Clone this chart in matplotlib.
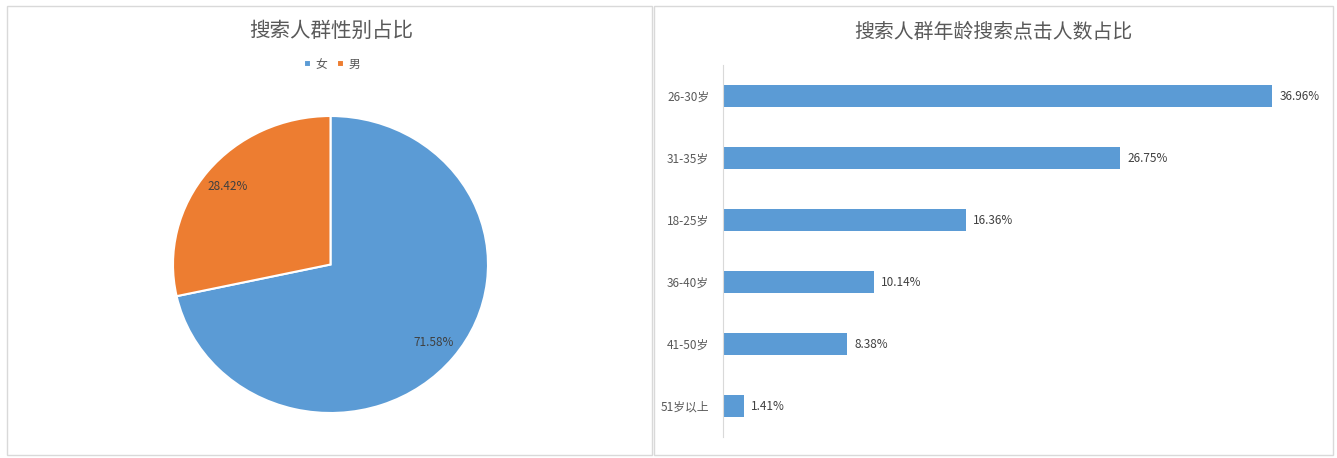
import matplotlib
matplotlib.use('Agg')
import matplotlib.pyplot as plt
from matplotlib.patches import Rectangle

plt.rcParams['font.family'] = ['Noto Sans CJK SC', 'DejaVu Sans']

# 数据
gender_labels = ['女', '男']
gender_share = [71.58, 28.42]
age_labels = ['26-30岁', '31-35岁', '18-25岁', '36-40岁', '41-50岁', '51岁以上']
age_share = [36.96, 26.75, 16.36, 10.14, 8.38, 1.41]

BLUE = '#5B9BD5'
ORANGE = '#ED7D31'
TXT = '#595959'

W, H = 1337, 458
fig = plt.figure(figsize=(W / 100, H / 100), dpi=100)
fig.patch.set_facecolor('white')


def px_box(x0, y0, x1, y1):
    # pixel box (top-left origin) -> figure fraction [l, b, w, h]
    return [x0 / W, (H - y1) / H, (x1 - x0) / W, (y1 - y0) / H]


# panel borders
for x0, x1 in [(7, 652), (654, 1333)]:
    l, b, w, h = px_box(x0, 6, x1, 455)
    fig.add_artist(Rectangle((l, b), w, h, transform=fig.transFigure,
                             fill=False, edgecolor='#D9D9D9', linewidth=1))

# left: pie
fig.text(331 / W, 1 - 31 / H, '搜索人群性别占比', ha='center', va='center',
         fontsize=14.8, color=TXT)
ax1 = fig.add_axes(px_box(173, 116, 488, 413))
wedges, _, autotexts = ax1.pie(gender_share, colors=[BLUE, ORANGE], startangle=90,
                               counterclock=False, autopct='%.2f%%', pctdistance=0.84,
                               wedgeprops=dict(edgecolor='white', linewidth=1.5),
                               textprops=dict(fontsize=8.5, color='#404040'))
ax1.set_aspect('auto')
ax1.set_xlim(-1, 1)
ax1.set_ylim(-1, 1)
leg = fig.legend(wedges, gender_labels, loc='center', bbox_to_anchor=(332 / W, 1 - 64 / H),
                 ncol=2, frameon=False, fontsize=8.5, handlelength=0.6, handleheight=0.6,
                 handletextpad=0.4, columnspacing=0.8, labelcolor=TXT)

# right: horizontal bars
fig.text(993 / W, 1 - 33 / H, '搜索人群年龄搜索点击人数占比', ha='center', va='center',
         fontsize=14.3, color=TXT)
ax2 = fig.add_axes(px_box(723, 65, 1317, 437))
ypos = list(range(len(age_labels)))
ax2.barh(ypos, age_share, height=0.36, color=BLUE)
ax2.set_ylim(len(age_labels) - 0.5, -0.5)
ax2.set_xlim(0, 40)
ax2.set_yticks(ypos)
ax2.set_yticklabels(age_labels, fontsize=8.5, color=TXT)
ax2.tick_params(axis='y', length=0, pad=10)
ax2.set_xticks([])
for s in ['top', 'right', 'bottom']:
    ax2.spines[s].set_visible(False)
ax2.spines['left'].set_color('#D9D9D9')
for y, v in zip(ypos, age_share):
    ax2.text(v + 0.5, y, '%.2f%%' % v, va='center', ha='left', fontsize=8.5, color='#404040')

fig.savefig('out.png', dpi=100)
